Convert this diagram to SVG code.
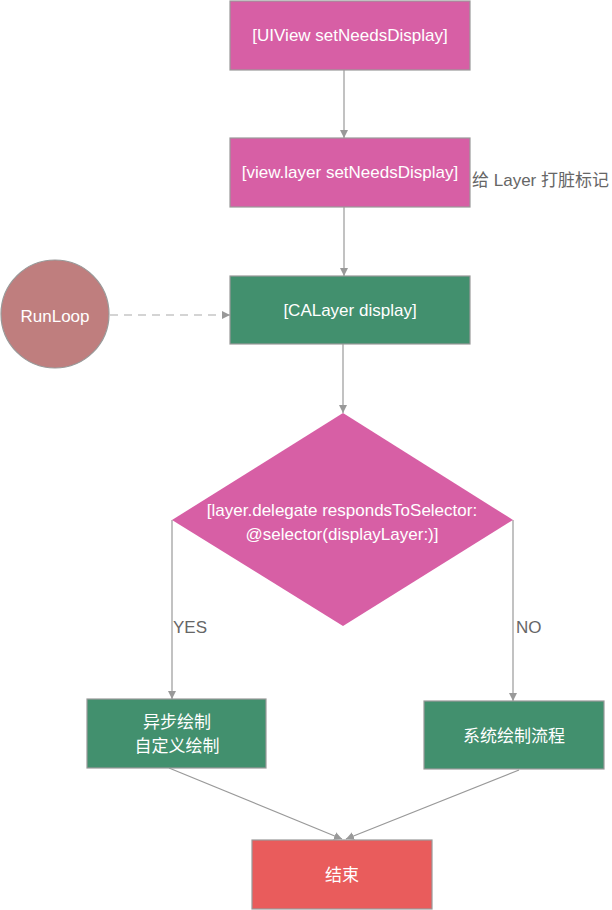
<svg xmlns="http://www.w3.org/2000/svg" width="612" height="910" viewBox="0 0 612 910">
<style>
.box{stroke:#999;stroke-width:1.2}
.pink{fill:#D75FA5}
.green{fill:#42906E}
.t{font-family:"Liberation Sans","Noto Sans CJK SC",sans-serif;font-size:17px;fill:#fff;text-anchor:middle;dominant-baseline:central}
.lbl{font-family:"Liberation Sans","Noto Sans CJK SC",sans-serif;font-size:17px;fill:#666;dominant-baseline:central}
.ln{stroke:#999;stroke-width:1.2;fill:none}
</style>
<defs>
<marker id="ah" viewBox="0 0 10 10" refX="10" refY="5" markerWidth="8" markerHeight="8" markerUnits="userSpaceOnUse" orient="auto">
<path d="M0,0 L10,5 L0,10 Z" fill="#999"/>
</marker>
</defs>
<g id="connectors">
<line class="ln" x1="344" y1="70" x2="344" y2="138" marker-end="url(#ah)"/>
<line class="ln" x1="344" y1="207" x2="344" y2="276" marker-end="url(#ah)"/>
<line class="ln" x1="110" y1="315" x2="230" y2="315" stroke-dasharray="8,6" marker-end="url(#ah)" style="stroke:#aaa"/>
<line class="ln" x1="343" y1="344" x2="343" y2="413" marker-end="url(#ah)"/>
<polyline class="ln" points="172,520 172,699" marker-end="url(#ah)"/>
<polyline class="ln" points="513,520 513,701" marker-end="url(#ah)"/>
<line class="ln" x1="169" y1="768" x2="342" y2="839" marker-end="url(#ah)"/>
<line class="ln" x1="519" y1="770" x2="346" y2="839" marker-end="url(#ah)"/>
<text class="lbl" x="173" y="627">YES</text>
<text class="lbl" x="516" y="627">NO</text>
</g>
<g id="n1"><rect class="box pink" x="230" y="1" width="240" height="69"/><text class="t" x="350" y="35">[UIView setNeedsDisplay]</text></g>
<g id="n2"><rect class="box pink" x="230" y="138" width="240" height="69"/><text class="t" x="350" y="172">[view.layer setNeedsDisplay]</text></g>
<g id="note"><text class="lbl" x="472" y="180">给 Layer 打脏标记</text></g>
<g id="runloop"><circle class="box" cx="55" cy="314" r="54" fill="#BF7E7E"/><text class="t" x="55" y="316">RunLoop</text></g>
<g id="n3"><rect class="box green" x="230" y="276" width="240" height="68"/><text class="t" x="350" y="310">[CALayer display]</text></g>
<g id="decision"><polygon class="pink" points="343,413 513,520 343,626 172,520"/><text class="t" x="342" y="510">[layer.delegate respondsToSelector:</text><text class="t" x="342" y="534">@selector(displayLayer:)]</text></g>
<g id="yes"><rect class="box green" x="87" y="699" width="179" height="69"/><text class="t" x="177" y="722">异步绘制</text><text class="t" x="177" y="746">自定义绘制</text></g>
<g id="no"><rect class="box green" x="424" y="701" width="180" height="68"/><text class="t" x="514" y="736">系统绘制流程</text></g>
<g id="end"><rect class="box" x="252" y="840" width="180" height="69" fill="#E95C5C"/><text class="t" x="342" y="875">结束</text></g>
</svg>
